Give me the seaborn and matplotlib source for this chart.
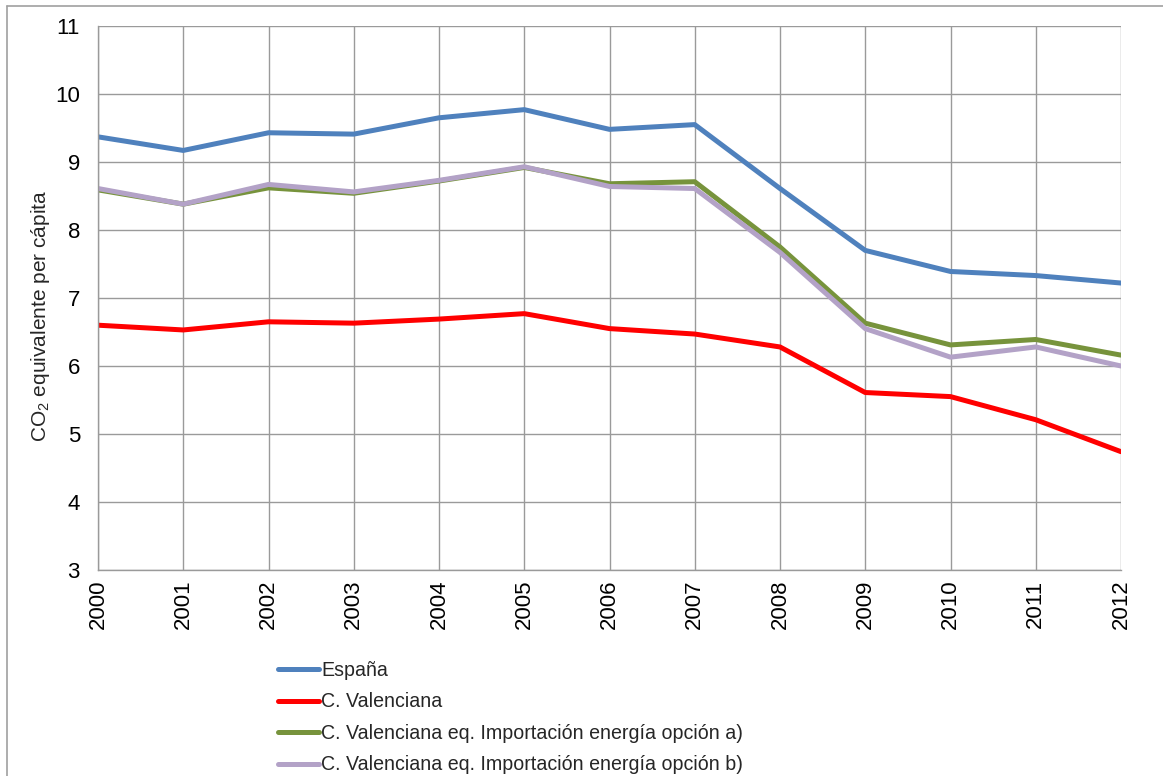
import matplotlib
matplotlib.use("Agg")
import matplotlib.pyplot as plt
from matplotlib.lines import Line2D
import seaborn as sns
import pandas as pd

years = [2000, 2001, 2002, 2003, 2004, 2005, 2006, 2007, 2008, 2009, 2010, 2011, 2012]
espana = [9.37, 9.17, 9.43, 9.41, 9.65, 9.77, 9.48, 9.55, 8.61, 7.70, 7.39, 7.33, 7.22]
c_valenciana = [6.60, 6.53, 6.65, 6.63, 6.69, 6.77, 6.55, 6.47, 6.28, 5.61, 5.55, 5.21, 4.74]
opcion_a = [8.59, 8.38, 8.62, 8.54, 8.72, 8.92, 8.68, 8.71, 7.75, 6.63, 6.31, 6.39, 6.16]
opcion_b = [8.61, 8.38, 8.67, 8.56, 8.73, 8.93, 8.64, 8.61, 7.67, 6.55, 6.13, 6.28, 6.00]

series_names = ["España", "C. Valenciana",
                "C. Valenciana eq. Importación energía opción a)",
                "C. Valenciana eq. Importación energía opción b)"]
series_values = [espana, c_valenciana, opcion_a, opcion_b]
colors = ["#4F81BD", "#FF0000", "#77933C", "#B3A2C7"]

rows = []
for name, vals in zip(series_names, series_values):
    for y, v in zip(years, vals):
        rows.append({"Año": y, "Valor": v, "Serie": name})
df = pd.DataFrame(rows)

sns.set_theme(style="white")
plt.rcParams["font.family"] = ["Liberation Sans", "DejaVu Sans"]
plt.rcParams["mathtext.fontset"] = "custom"
plt.rcParams["mathtext.rm"] = "Liberation Sans"
plt.rcParams["mathtext.it"] = "Liberation Sans:italic"

fig = plt.figure(figsize=(11.63, 7.76), dpi=100)
ax = fig.add_axes([98 / 1163, 1 - 570 / 776, (1121 - 98) / 1163, (570 - 26) / 776])

sns.lineplot(data=df, x="Año", y="Valor", hue="Serie", hue_order=series_names,
             palette=colors, linewidth=3.6, ax=ax, legend=True, sort=False)

ax.set_xlim(2000, 2012)
ax.set_ylim(3, 11)
ax.set_xticks(years)
ax.set_xticklabels([str(y) for y in years], rotation=90, fontsize=16)
ax.set_yticks(range(3, 12))
ax.set_yticklabels([str(v) for v in range(3, 12)], fontsize=16)
ax.grid(True, color="#9A9A9A", linewidth=1.0)
ax.set_axisbelow(True)
for s in ["top", "right"]:
    ax.spines[s].set_visible(False)
for s in ["left", "bottom"]:
    ax.spines[s].set_color("#9A9A9A")
    ax.spines[s].set_linewidth(1.0)
ax.tick_params(axis="both", direction="out", length=5, width=1, color="#9A9A9A",
               labelcolor="black")
ax.tick_params(axis="x", pad=2)
ax.tick_params(axis="y", pad=8)
ax.set_xlabel("")
ax.set_ylabel("CO$_2$ equivalente per cápita", fontsize=15)
ax.yaxis.set_label_coords(-0.045, 0.467)

handles, labels = ax.get_legend_handles_labels()
ax.get_legend().remove()
leg = fig.legend(handles, labels, loc="upper left",
                 bbox_to_anchor=(270 / 1163, 1 - 653 / 776),
                 frameon=False, fontsize=14.1, handlelength=2.1,
                 handletextpad=0.1, labelspacing=0.64, borderaxespad=0)
for h in leg.get_lines():
    h.set_linewidth(3.6)

# outer chart frame
fig.add_artist(Line2D([7 / 1163, 7 / 1163], [0, 1 - 6 / 776], transform=fig.transFigure,
                      color="#A0A0A0", linewidth=1.2))
fig.add_artist(Line2D([7 / 1163, 1], [1 - 6 / 776, 1 - 6 / 776], transform=fig.transFigure,
                      color="#A0A0A0", linewidth=1.2))

fig.savefig("out.png", dpi=100)
